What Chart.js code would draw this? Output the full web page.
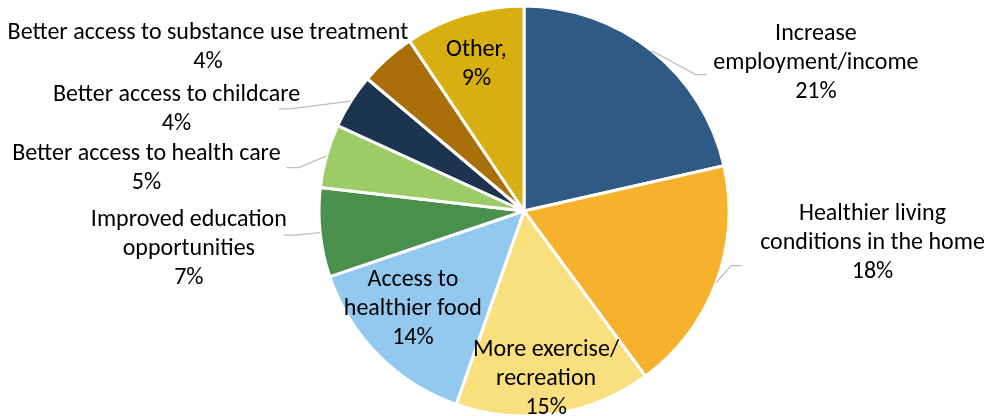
<!DOCTYPE html>
<html>
<head>
<meta charset="utf-8">
<script src="https://cdn.jsdelivr.net/npm/chart.js@4.4.0/dist/chart.umd.min.js"></script>
<style>
  html, body { margin: 0; padding: 0; background: #fff; }
  #wrap { width: 987px; height: 416px; }
</style>
</head>
<body>
<div id="wrap"><canvas id="pie"></canvas></div>
<script>
// data
var categories = ['Increase employment/income', 'Healthier living conditions in the home',
	'More exercise/ recreation', 'Access to healthier food', 'Improved education opportunities',
	'Better access to health care', 'Better access to childcare',
	'Better access to substance use treatment', 'Other'];
var shares = [21.4, 18.4, 15.4, 14.4, 7.0, 5.0, 4.3, 4.4, 9.4];
var nameLines = [['Increase', 'employment/income'], ['Healthier living', 'conditions in the home'],
	['More exercise/', 'recreation'], ['Access to', 'healthier food'], ['Improved education', 'opportunities'],
	['Better access to health care'], ['Better access to childcare'],
	['Better access to substance use treatment'], ['Other,']];
var colores = ['#2E5A84', '#F6B22C', '#F9DF7D', '#93C9EF', '#4A8F4B', '#9DCB66', '#1D344F', '#A86F0A', '#D7AF10'];

// label placement, in units of the pie radius from its centre
// t = text block centre, e = leader elbow, tail = where the short horizontal piece ends
var layout = [
	{t: [1.424, -0.724], e: [0.837, -0.665], tail: 0.892},
	{t: [1.700, 0.158], e: [1.010, 0.266], tail: 1.064},
	{t: [0.108, 0.818]},
	{t: [-0.542, 0.478]},
	{t: [-1.635, 0.187], e: [-1.118, 0.118], tail: -1.172},
	{t: [-1.842, -0.207], e: [-1.099, -0.212], tail: -1.158},
	{t: [-1.695, -0.493], e: [-1.143, -0.498], tail: -1.197},
	{t: [-1.542, -0.798]},
	{t: [-0.232, -0.714]}
];

var FONT = '24px Carlito, Calibri, Lato, sans-serif';
var LINE_H = 29;

var etiquetas = {
	id: 'etiquetas',
	afterDatasetsDraw: function(chart){
		var ctx = chart.ctx;
		var meta = chart.getDatasetMeta(0);
		var total = shares.reduce(function(a, b){ return a + b; }, 0);
		ctx.save();
		meta.data.forEach(function(arc, i){
			var p = arc.getProps(['x', 'y', 'startAngle', 'endAngle', 'outerRadius'], true);
			var r = p.outerRadius;
			var L = layout[i];
			// leader line
			if (L.e) {
				var mid = (p.startAngle + p.endAngle) / 2;
				ctx.beginPath();
				ctx.strokeStyle = '#BFBFBF';
				ctx.lineWidth = 1.3;
				ctx.moveTo(p.x + Math.cos(mid) * r, p.y + Math.sin(mid) * r);
				ctx.lineTo(p.x + L.e[0] * r, p.y + L.e[1] * r);
				ctx.lineTo(p.x + L.tail * r, p.y + L.e[1] * r);
				ctx.stroke();
			}
			// text
			var lines = nameLines[i].concat([Math.round(shares[i] / total * 100) + '%']);
			var cx = p.x + L.t[0] * r;
			var cy = p.y + L.t[1] * r;
			ctx.font = FONT;
			ctx.fillStyle = '#000';
			ctx.textAlign = 'center';
			ctx.textBaseline = 'middle';
			lines.forEach(function(txt, k){
				ctx.fillText(txt, cx, cy + (k - (lines.length - 1) / 2) * LINE_H);
			});
		});
		ctx.restore();
	}
};

new Chart(document.getElementById('pie'), {
	type: 'pie',
	data: {
		labels: categories,
		datasets: [{
			data: shares,
			backgroundColor: colores,
			borderColor: '#FFFFFF',
			borderWidth: 3,
			radius: 205
		}]
	},
	options: {
		responsive: true,
		maintainAspectRatio: false,
		animation: false,
		layout: { padding: { left: 300, right: 239, top: 6, bottom: 0 } },
		plugins: {
			legend: { display: false },
			tooltip: { enabled: false }
		}
	},
	plugins: [etiquetas]
});
</script>
</body>
</html>
